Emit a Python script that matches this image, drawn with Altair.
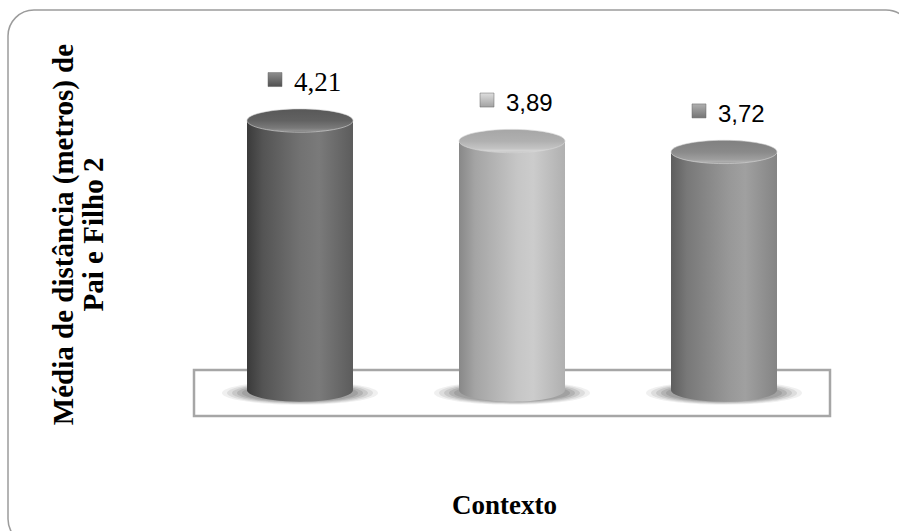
import altair as alt
import pandas as pd

# ---- data ----
categories = ["Contexto 1", "Contexto 2", "Contexto 3"]
values = [4.21, 3.89, 3.72]
value_labels = ["4,21", "3,89", "3,72"]

df = pd.DataFrame({"Contexto": categories, "Media": values, "Rotulo": value_labels})

# ---- layout / style constants ----
W, H = 636, 376
PAD = {"left": 194, "top": 40, "right": 69, "bottom": 115}
BAR_W = 106
ELLIPSE = "M-1,0A1,0.22,0,1,0,1,0A1,0.22,0,1,0,-1,0Z"
SHADOW = "M-1,0A1,0.15,0,1,0,1,0A1,0.15,0,1,0,-1,0Z"
SERIF = "Liberation Serif, Times New Roman, serif"
SANS = "Liberation Sans, Arial, sans-serif"
Y_DOMAIN = [-0.40625, 5.46875]


def grad(stops, vertical=False):
    return alt.Gradient(
        gradient="linear",
        stops=[alt.GradientStop(color=c, offset=o) for c, o in stops],
        x1=0, x2=0 if vertical else 1, y1=0, y2=1 if vertical else 0,
    )


STYLE = [
    dict(body=[("#3a3a3a", 0), ("#545454", 0.15), ("#727272", 0.5), ("#7a7a7a", 0.68), ("#5c5c5c", 1)],
         top=[("#585858", 0), ("#626262", 0.5), ("#7a7a7a", 0.82), ("#8e8e8e", 0.93), ("#6a6a6a", 1)],
         marker=[("#8e8e8e", 0), ("#505050", 1)]),
    dict(body=[("#888888", 0), ("#a4a4a4", 0.15), ("#c6c6c6", 0.55), ("#cccccc", 0.7), ("#b0b0b0", 1)],
         top=[("#a6a6a6", 0), ("#b0b0b0", 0.5), ("#c4c4c4", 0.82), ("#d6d6d6", 0.93), ("#b8b8b8", 1)],
         marker=[("#dedede", 0), ("#a2a2a2", 1)]),
    dict(body=[("#5e5e5e", 0), ("#787878", 0.15), ("#989898", 0.55), ("#a0a0a0", 0.7), ("#848484", 1)],
         top=[("#808080", 0), ("#8a8a8a", 0.5), ("#9e9e9e", 0.82), ("#b0b0b0", 0.93), ("#929292", 1)],
         marker=[("#b0b0b0", 0), ("#747474", 1)]),
]

x_enc = alt.X(
    "Contexto:N", sort=categories,
    scale=alt.Scale(paddingInner=0.5, paddingOuter=0.25),
    axis=alt.Axis(labels=False, ticks=False, domain=False, grid=False, zindex=1,
                  title="Contexto", titleFont=SERIF, titleFontSize=27,
                  titleFontWeight="bold", titleColor="#000000",
                  titleX=310, titleY=97, titleAlign="center", titleBaseline="alphabetic"),
)
y_enc = alt.Y(
    "Media:Q",
    scale=alt.Scale(domain=Y_DOMAIN, nice=False, zero=False),
    axis=alt.Axis(labels=False, ticks=False, domain=False, grid=False, zindex=1,
                  title=["Média de distância (metros) de", "Pai e Filho 2"],
                  titleFont=SERIF, titleFontSize=29, titleFontWeight="bold",
                  titleColor="#000000", titleAngle=270, titleAlign="center",
                  titleBaseline="top", titleLineHeight=30, titleX=-145, titleY=194),
)

base = alt.Chart(df).encode(x=x_enc)
one = alt.Chart(pd.DataFrame({"k": [0]}))

layers = []

# outer rounded border
layers.append(one.mark_rect(fillOpacity=0, stroke="#9c9c9c", strokeWidth=1.5, cornerRadius=26).encode(
    x=alt.value(-186), x2=alt.value(718), y=alt.value(-30), y2=alt.value(505)))

# floor
layers.append(one.mark_rect(fillOpacity=0, stroke="#a6a6a6", strokeWidth=2.5).encode(
    x=alt.value(0), x2=alt.value(W), y=alt.value(330), y2=alt.value(H)))

# invisible bars carrying the axes
for i, cat in enumerate(categories):
    sub = base.transform_filter(alt.datum.Contexto == cat)
    layers.append(sub.mark_bar(opacity=0).encode(y=y_enc, y2=alt.datum(0)))

# soft shadows around bar bases
for w, op in [(156, 0.10), (146, 0.14), (136, 0.18), (126, 0.22), (116, 0.25)]:
    layers.append(base.mark_point(shape=SHADOW, size=w * w, filled=True, fill="#6a6a6a",
                                  opacity=op, strokeWidth=0, yOffset=3).encode(y=alt.datum(0)))

for i, cat in enumerate(categories):
    st = STYLE[i]
    sub = base.transform_filter(alt.datum.Contexto == cat)
    # bottom ellipse
    layers.append(sub.mark_point(shape=ELLIPSE, size=BAR_W * BAR_W, filled=True,
                                 fill=grad(st["body"]), opacity=1, strokeWidth=0).encode(y=alt.datum(0)))
    # cylinder body
    layers.append(sub.mark_bar(fill=grad(st["body"]), opacity=1).encode(y=y_enc, y2=alt.datum(0)))
    # top ellipse
    layers.append(sub.mark_point(shape=ELLIPSE, size=BAR_W * BAR_W, filled=True,
                                 fill=grad(st["top"], vertical=True), opacity=1,
                                 stroke="#d8d8d8", strokeWidth=0.6).encode(y=y_enc))
    # label marker
    layers.append(sub.mark_point(shape="square", size=196, filled=True,
                                 fill=grad(st["marker"], vertical=True), opacity=1,
                                 stroke="#666666", strokeWidth=0.5,
                                 xOffset=-25, yOffset=-41).encode(y=y_enc))

# value labels
layers.append(base.transform_filter(alt.datum.Contexto == categories[0]).mark_text(
    align="left", baseline="alphabetic", dx=-6, dy=-30, font=SERIF,
    fontSize=27, color="#000000").encode(y=y_enc, text="Rotulo:N"))
layers.append(base.transform_filter(alt.datum.Contexto != categories[0]).mark_text(
    align="left", baseline="alphabetic", dx=-6, dy=-30, font=SANS,
    fontSize=24, color="#000000").encode(y=y_enc, text="Rotulo:N"))

chart = alt.layer(*layers).properties(
    width=W, height=H, padding=PAD, autosize=alt.AutoSizeParams(type="none"),
    background="white",
).configure_view(stroke=None)

chart.save("out.html", embed_options={"renderer": "svg", "actions": False})
